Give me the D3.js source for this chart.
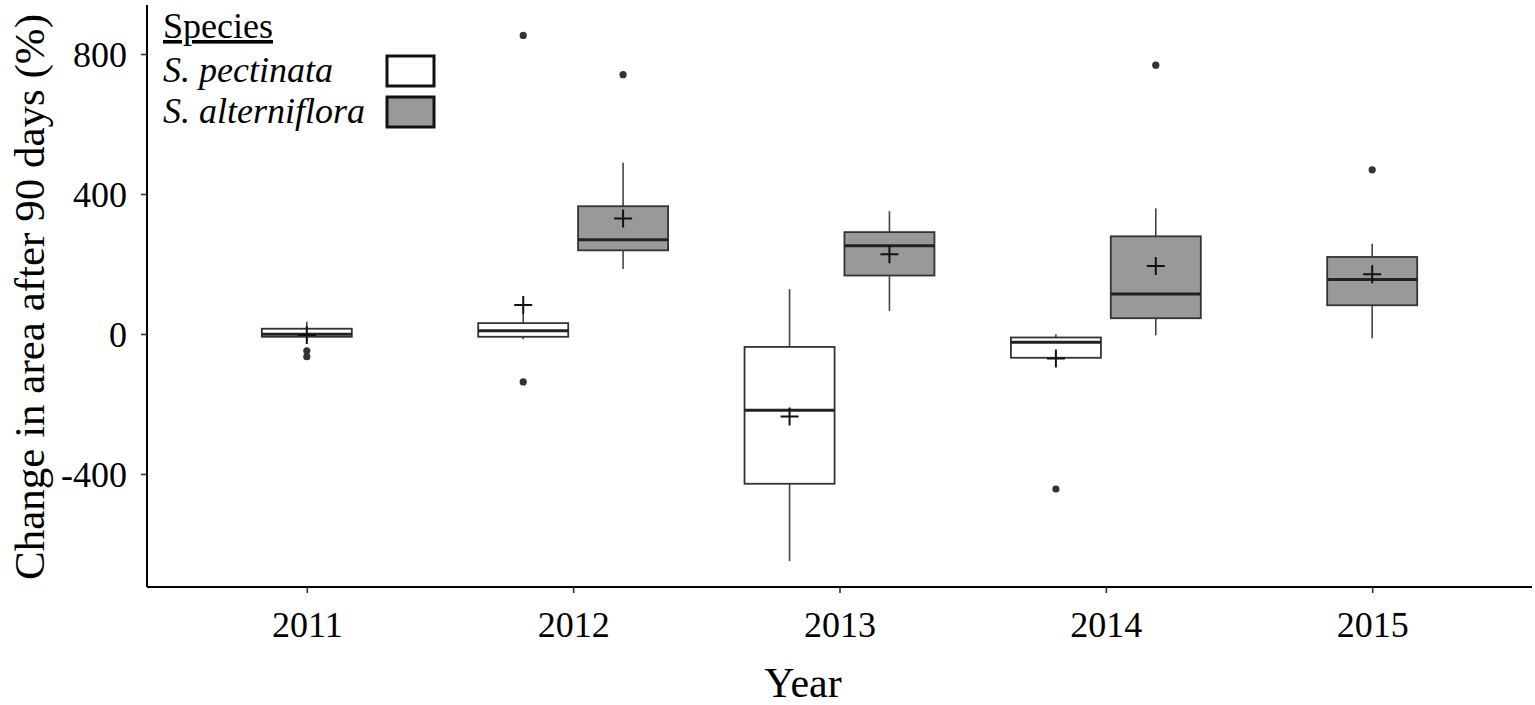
<!DOCTYPE html>
<html>
<head>
<meta charset="utf-8">
<script src="https://cdn.jsdelivr.net/npm/d3@7.9.0/dist/d3.min.js"></script>
<style>
  body { margin: 0; background: #fff; }
  svg { display: block; font-family: "Liberation Serif", "Times New Roman", serif; }
</style>
</head>
<body>
<svg id="chart" width="1535" height="705"></svg>
<script>
const years = ['2011', '2012', '2013', '2014', '2015'];
const species = ['S. pectinata', 'S. alterniflora'];
const yTicks = [-400, 0, 400, 800];

// one entry per box
const boxYear    = ['2011', '2012', '2012', '2013', '2013', '2014', '2014', '2015'];
const boxSpecies = ['S. pectinata', 'S. pectinata', 'S. alterniflora', 'S. pectinata', 'S. alterniflora', 'S. pectinata', 'S. alterniflora', 'S. alterniflora'];
const q1       = [-8, -8, 239, -428, 167, -68, 45, 82];
const median   = [-1, 9, 269, -218, 252, -24, 114, 156];
const q3       = [15, 31, 365, -37, 291, -10, 279, 220];
const whiskLo  = [-20, -15, 186, -649, 66, -68, -4, -12];
const whiskHi  = [35, 57, 489, 128, 351, -1, 359, 258];
const means    = [-3, 83, 330, -236, 228, -70, 194, 171];
const outliers = [[-48, -65], [853, -137], [741], [], [], [-443], [768], [469]];

const fills = { 'S. pectinata': '#ffffff', 'S. alterniflora': '#999999' };

const svg = d3.select('#chart');
const plotLeft = 147, plotRight = 1532, plotTop = 5, plotBottom = 587;

let x = d3.scalePoint().domain(years).range([plotLeft, plotRight]).padding(0.6);
let y = d3.scaleLinear().domain([-723, 940]).range([plotBottom, plotTop]);
const step = x.step();
const boxW = step * 0.338;
const dodge = step * 0.1875;

// which years have both species
let countByYear = d3.rollup(boxYear, v => v.length, d => d);

let boxes = boxYear.map((yr, i) => {
  let off = 0;
  if (countByYear.get(yr) > 1) off = boxSpecies[i] === species[0] ? -dodge : dodge;
  return { yr, sp: boxSpecies[i], cx: x(yr) + off, q1: q1[i], med: median[i], q3: q3[i],
           lo: whiskLo[i], hi: whiskHi[i], mean: means[i], out: outliers[i] };
});

let g = svg.append('g');

boxes.forEach(b => {
  // whiskers
  g.append('line').attr('x1', b.cx).attr('x2', b.cx).attr('y1', y(b.q3)).attr('y2', y(b.hi))
    .attr('stroke', '#444').attr('stroke-width', 1.6);
  g.append('line').attr('x1', b.cx).attr('x2', b.cx).attr('y1', y(b.q1)).attr('y2', y(b.lo))
    .attr('stroke', '#444').attr('stroke-width', 1.6);
  // box
  g.append('rect').attr('x', b.cx - boxW / 2).attr('width', boxW)
    .attr('y', y(b.q3)).attr('height', y(b.q1) - y(b.q3))
    .attr('fill', fills[b.sp]).attr('stroke', '#333').attr('stroke-width', 1.8);
  // median
  g.append('line').attr('x1', b.cx - boxW / 2).attr('x2', b.cx + boxW / 2)
    .attr('y1', y(b.med)).attr('y2', y(b.med))
    .attr('stroke', '#222').attr('stroke-width', 3);
  // outliers
  b.out.forEach(o => {
    g.append('circle').attr('cx', b.cx).attr('cy', y(o)).attr('r', 3.6).attr('fill', '#333');
  });
  // mean cross
  g.append('path')
    .attr('d', `M${b.cx - 9},${y(b.mean)}H${b.cx + 9}M${b.cx},${y(b.mean) - 9}V${y(b.mean) + 9}`)
    .attr('stroke', '#111').attr('stroke-width', 2).attr('fill', 'none');
});

// axes
let yAxis = svg.append('g').attr('transform', `translate(${plotLeft},0)`)
  .call(d3.axisLeft(y).tickValues(yTicks).tickFormat(d => String(d))
    .tickSize(6).tickPadding(14).tickSizeOuter(0));
let xAxis = svg.append('g').attr('transform', `translate(0,${plotBottom})`)
  .call(d3.axisBottom(x).tickSize(6).tickPadding(18).tickSizeOuter(0));

yAxis.select('.domain').attr('d', `M0,${plotTop}V${plotBottom}`);
xAxis.select('.domain').attr('d', `M${plotLeft},0H${plotRight}`);
[yAxis, xAxis].forEach(a => {
  a.select('.domain').attr('stroke', '#000').attr('stroke-width', 2);
  a.selectAll('.tick line').attr('stroke', '#333').attr('stroke-width', 1.6);
  a.selectAll('.tick text').attr('fill', '#000').style('font-size', '36px')
    .style('font-family', '"Liberation Serif", serif');
});
yAxis.selectAll('.tick text').attr('dy', '0.34em');
xAxis.selectAll('.tick text').attr('dy', '0.71em');

// axis titles
svg.append('text').attr('x', 803).attr('y', 697).attr('text-anchor', 'middle')
  .style('font-size', '42px').text('Year');
svg.append('text').attr('transform', 'translate(44,297) rotate(-90)').attr('text-anchor', 'middle')
  .style('font-size', '43px').text('Change in area after 90 days (%)');

// legend
let legend = svg.append('g');
legend.append('text').attr('x', 163).attr('y', 38).style('font-size', '36px')
  .style('text-decoration', 'underline').text('Species');
species.forEach((s, i) => {
  let yy = 56 + i * 41;
  legend.append('text').attr('x', 163).attr('y', yy + 26).style('font-size', '36px')
    .style('font-style', 'italic').text(s);
  legend.append('rect').attr('x', 387).attr('y', yy).attr('width', 47).attr('height', 30)
    .attr('fill', fills[s]).attr('stroke', '#111').attr('stroke-width', 3);
});
</script>
</body>
</html>
